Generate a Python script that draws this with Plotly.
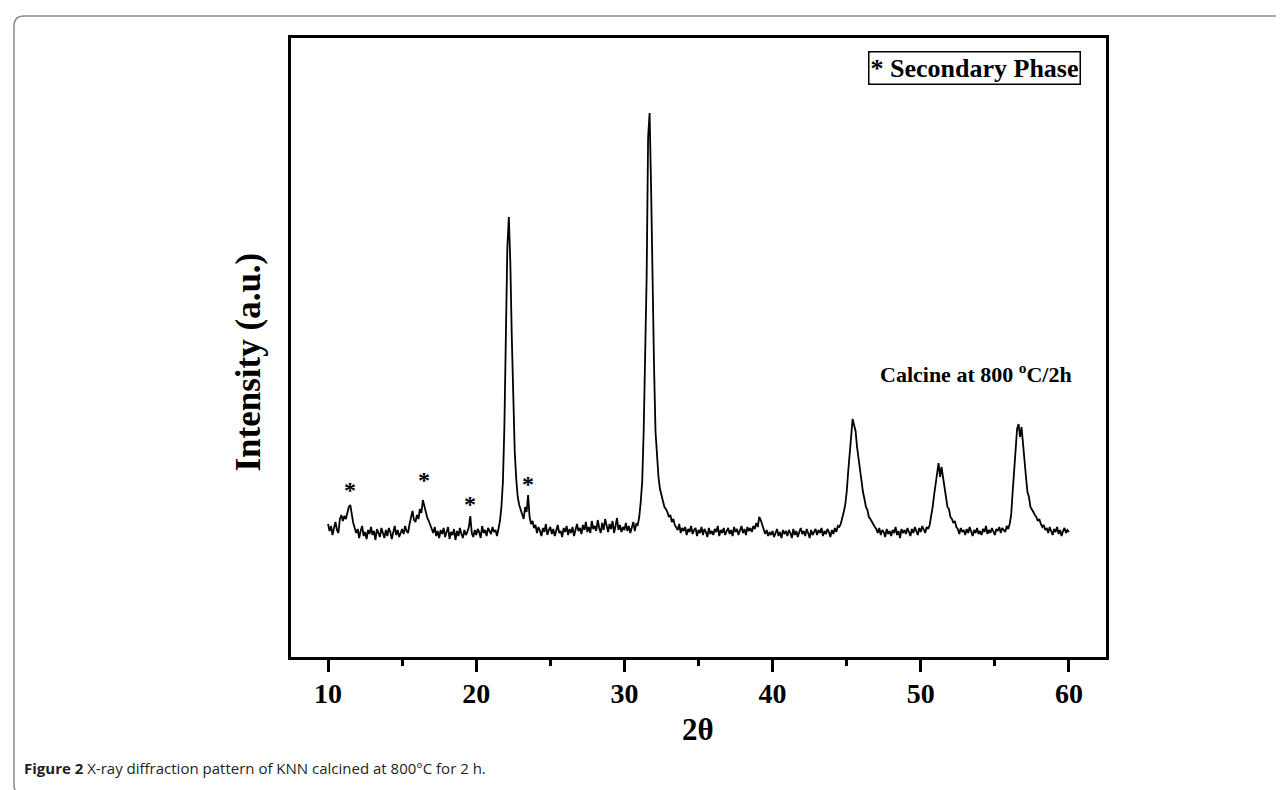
import numpy as np
import plotly.graph_objects as go

# ---- data ----
two_theta_start = 10.0
two_theta_step = 0.1
intensity = [
    133, 126, 131, 122, 129, 135, 127, 124, 138, 142,   # 10
    136, 141, 138, 146, 150, 152, 141, 134, 129, 124,   # 11
    128, 119, 126, 131, 121, 125, 118, 127, 123, 130,   # 12
    122, 126, 117, 128, 124, 120, 129, 123, 119, 127,   # 13
    121, 129, 125, 118, 126, 131, 122, 127, 120, 125,   # 14
    128, 123, 131, 126, 124, 133, 140, 146, 137, 135,   # 15
    142, 138, 148, 144, 157, 150, 146, 139, 136, 131,   # 16
    128, 124, 130, 121, 126, 119, 127, 123, 129, 120,   # 17
    124, 130, 118, 125, 122, 128, 117, 126, 121, 129,   # 18
    123, 119, 127, 122, 125, 130, 141, 124, 120, 127,   # 19
    122, 128, 125, 119, 131, 124, 127, 121, 129, 126,   # 20
    123, 130, 125, 127, 121, 128, 136, 150, 175, 230,   # 21
    320, 410, 440, 395, 320, 255, 205, 178, 160, 152,   # 22
    148, 144, 138, 150, 145, 162, 140, 133, 136, 129,   # 23
    132, 124, 130, 126, 121, 129, 125, 133, 122, 127,   # 24
    130, 123, 128, 121, 127, 132, 124, 126, 120, 129,   # 25
    125, 131, 122, 128, 124, 130, 121, 127, 133, 126,   # 26
    129, 123, 132, 127, 135, 125, 130, 124, 136, 128,   # 27
    131, 126, 137, 129, 124, 134, 127, 138, 130, 125,   # 28
    133, 128, 136, 124, 131, 139, 127, 132, 125, 130,   # 29
    127, 134, 126, 131, 124, 129, 135, 126, 133, 132,   # 30
    140, 155, 175, 225, 300, 380, 520, 544, 470, 370,   # 31
    290, 225, 200, 180, 168, 162, 158, 150, 148, 145,   # 32
    140, 142, 135, 138, 132, 130, 127, 133, 124, 129,   # 33
    126, 130, 122, 128, 125, 131, 123, 127, 129, 121,   # 34
    127, 124, 130, 122, 128, 125, 120, 129, 123, 126,   # 35
    122, 128, 125, 131, 121, 127, 124, 129, 122, 126,   # 36
    129, 123, 127, 121, 130, 125, 128, 122, 126, 131,   # 37
    124, 128, 122, 130, 126, 129, 125, 131, 128, 134,   # 38
    130, 140, 137, 132, 128, 123, 127, 121, 125, 122,   # 39
    126, 120, 124, 128, 121, 125, 119, 127, 123, 126,   # 40
    121, 127, 124, 119, 128, 122, 126, 120, 125, 129,   # 41
    123, 126, 121, 128, 124, 119, 127, 122, 125, 128,   # 42
    122, 127, 124, 129, 121, 126, 123, 128, 125, 120,   # 43
    127, 123, 129, 125, 131, 130, 133, 138, 145, 152,   # 44
    165, 185, 205, 225, 238, 232, 226, 210, 198, 188,   # 45
    178, 165, 158, 150, 147, 140, 138, 135, 132, 130,   # 46
    128, 124, 129, 122, 127, 125, 120, 128, 123, 126,   # 47
    121, 127, 124, 130, 122, 126, 119, 128, 124, 127,   # 48
    123, 129, 125, 121, 128, 124, 130, 126, 122, 129,   # 49
    125, 131, 127, 124, 130, 128, 132, 140, 150, 162,   # 50
    172, 185, 194, 180, 190, 180, 168, 160, 150, 148,   # 51
    140, 138, 134, 136, 130, 128, 123, 129, 125, 127,   # 52
    122, 128, 124, 130, 126, 121, 127, 124, 129, 123,   # 53
    126, 122, 128, 125, 131, 123, 127, 124, 129, 125,   # 54
    122, 128, 126, 130, 124, 129, 127, 125, 131, 128,   # 55
    133, 142, 165, 190, 205, 228, 233, 220, 230, 210,   # 56
    195, 180, 165, 160, 150, 148, 145, 142, 140, 136,   # 57
    138, 133, 130, 132, 127, 129, 124, 130, 126, 122,   # 58
    128, 125, 130, 123, 127, 121, 126, 129, 124, 127,   # 59
    125,                                                 # 60
]
two_theta = np.round(two_theta_start + two_theta_step * np.arange(len(intensity)), 2)

# secondary-phase markers
star_x = [11.5, 16.5, 19.6, 23.5]
star_y = [173, 183, 159, 179]

x_ticks = [10, 20, 30, 40, 50, 60]

# ---- layout geometry (pixels) ----
W, H = 1284, 790
L, R, T, B = 283, 1098, 30, 649
pw, ph = R - L, B - T


def px(x):
    return (x - L) / pw


def py(y):
    return (B - y) / ph


SERIF = "Liberation Serif, Times New Roman, serif"

fig = go.Figure()
fig.add_trace(go.Scatter(x=two_theta, y=intensity, mode="lines",
                         line=dict(color="black", width=1.8),
                         showlegend=False, hoverinfo="skip"))

for sx, sy in zip(star_x, star_y):
    fig.add_annotation(x=sx, y=sy, xref="x", yref="y", text="*", showarrow=False,
                       yshift=-6, font=dict(family=SERIF, size=24, color="black", weight="bold"))

# legend-like boxed note
fig.add_annotation(x=px(860), y=py(43), xref="paper", yref="paper", xanchor="left", yanchor="top",
                   text="* Secondary Phase", showarrow=False, bgcolor="white",
                   bordercolor="black", borderwidth=1.5, borderpad=1,
                   font=dict(family=SERIF, size=26, color="black", weight="bold"))

fig.add_annotation(x=53.7, y=284, xref="x", yref="y", text="Calcine at 800 <sup>o</sup>C/2h",
                   showarrow=False, font=dict(family=SERIF, size=22, color="black", weight="bold"))

# axis titles
fig.add_annotation(x=px(218), y=py(354), xref="paper", yref="paper", text="Intensity (a.u.)",
                   textangle=-90, showarrow=False,
                   font=dict(family=SERIF, size=35, color="black", weight="bold"))
fig.add_annotation(x=px(690), y=py(741), xref="paper", yref="paper", text="2θ",
                   showarrow=False, font=dict(family=SERIF, size=31, color="black", weight="bold"))

# caption
fig.add_annotation(x=px(14), y=py(772), xref="paper", yref="paper", xanchor="left",
                   text="<b>Figure 2</b> X-ray diffraction pattern of KNN calcined at 800°C for 2 h.",
                   showarrow=False, font=dict(family="Open Sans, Noto Sans, sans-serif", size=15, color="#231f20"))

# outer rounded frame
x0, x1, y0, y1, r = 6, 1279, 8, 787, 10
rx, ry = r / pw, r / ph
X0, X1, Y0, Y1 = px(x0), px(x1), py(y1), py(y0)
path = (f"M {X0+rx},{Y1} L {X1-rx},{Y1} Q {X1},{Y1} {X1},{Y1-ry} "
        f"L {X1},{Y0+ry} Q {X1},{Y0} {X1-rx},{Y0} L {X0+rx},{Y0} "
        f"Q {X0},{Y0} {X0},{Y0+ry} L {X0},{Y1-ry} Q {X0},{Y1} {X0+rx},{Y1} Z")
fig.add_shape(type="path", path=path, xref="paper", yref="paper",
              line=dict(color="#8c8c8c", width=1.5), layer="below")

fig.update_layout(
    width=W, height=H,
    margin=dict(l=L, r=W - R, t=T, b=H - B, pad=0),
    paper_bgcolor="white", plot_bgcolor="white",
    xaxis=dict(range=[7.5, 62.5], tickvals=x_ticks, ticks="outside", ticklen=12, tickwidth=2.5,
               tickcolor="black", linecolor="black", linewidth=3, mirror=True, showgrid=False,
               zeroline=False, ticklabelstandoff=-3,
               tickfont=dict(family=SERIF, size=28, color="black", weight="bold"),
               minor=dict(dtick=5, ticks="outside", ticklen=6, tickwidth=2.5, tickcolor="black",
                          showgrid=False)),
    yaxis=dict(range=[0, ph], showticklabels=False, ticks="", linecolor="black", linewidth=3,
               mirror=True, showgrid=False, zeroline=False),
)

fig.write_html("out.html")
